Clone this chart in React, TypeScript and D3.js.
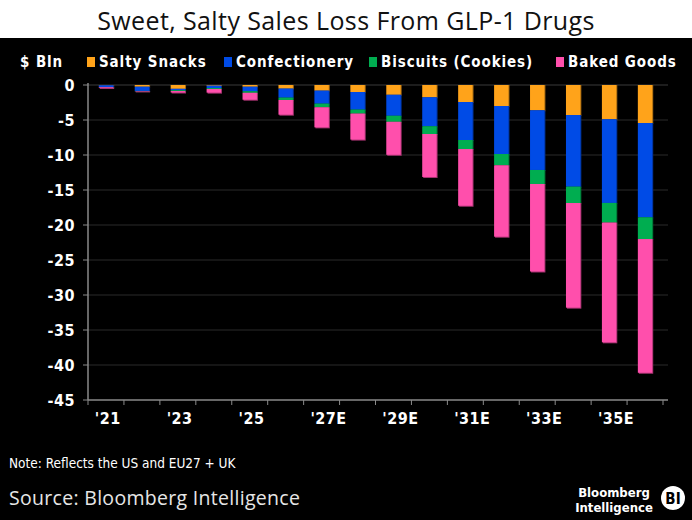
import { useRef, useEffect } from 'react';
import * as d3 from 'd3';

const W = 692;
const H = 520;

const years = ['2021', '2022', '2023', '2024', '2025', '2026', '2027', '2028', '2029', '2030', '2031', '2032', '2033', '2034', '2035', '2036'];
const tickLabels: Record<string, string> = {
  '2021': "'21",
  '2023': "'23",
  '2025': "'25",
  '2027': "'27E",
  '2029': "'29E",
  '2031': "'31E",
  '2033': "'33E",
  '2035': "'35E",
};

// losses in $ bln (plotted as negatives)
const saltySnacks = [0.05, 0.25, 0.55, 0.1, 0.25, 0.52, 0.81, 1.0, 1.4, 1.76, 2.43, 3.0, 3.62, 4.29, 4.9, 5.43];
const confectionery = [0.25, 0.6, 0.2, 0.33, 0.65, 1.29, 1.86, 2.52, 3.0, 4.14, 5.43, 6.86, 8.52, 10.24, 11.95, 13.48];
const biscuits = [0.03, 0.03, 0.12, 0.14, 0.22, 0.33, 0.52, 0.57, 0.86, 1.1, 1.29, 1.62, 2.0, 2.33, 2.81, 3.1];
const bakedGoods = [0.1, 0.03, 0.2, 0.52, 0.98, 2.1, 2.86, 3.71, 4.71, 6.14, 8.1, 10.19, 12.5, 14.95, 17.1, 19.1];

const seriesNames = ['Salty Snacks', 'Confectionery', 'Biscuits (Cookies)', 'Baked Goods'];
const seriesColors = ['#ffa31a', '#004be6', '#00ad50', '#ff4fac'];
const yTicks = [0, -5, -10, -15, -20, -25, -30, -35, -40, -45];

const FONT = '"DejaVu Sans Condensed", "DejaVu Sans", sans-serif';

export default function App() {
  const svgRef = useRef<SVGSVGElement>(null);

  useEffect(() => {
    document.body.style.margin = '0';
    const svg = d3.select(svgRef.current);
    svg.selectAll('*').remove();

    const left = 88;
    const right = 663;
    const top = 85;
    const bottom = 400;

    const x = d3.scaleBand<string>().domain(years).range([left, right]).paddingInner(0.6).paddingOuter(0.3);
    const y = d3.scaleLinear().domain([-45, 0]).range([bottom, top]);

    const table = years.map((yr, i) => ({
      year: yr,
      s0: -saltySnacks[i],
      s1: -confectionery[i],
      s2: -biscuits[i],
      s3: -bakedGoods[i],
    }));
    const keys = ['s0', 's1', 's2', 's3'];
    const stacked = d3.stack<any>().keys(keys).offset(d3.stackOffsetDiverging)(table);

    // background
    svg.append('rect').attr('width', W).attr('height', H).attr('fill', '#000');
    svg.append('rect').attr('width', W).attr('height', 38).attr('fill', '#fff');

    svg
      .append('text')
      .attr('x', W / 2)
      .attr('y', 30)
      .attr('text-anchor', 'middle')
      .attr('font-family', '"Open Sans", sans-serif')
      .attr('font-size', 25)
      .attr('letter-spacing', 0.4)
      .attr('fill', '#111')
      .text('Sweet, Salty Sales Loss From GLP-1 Drugs');

    // legend
    svg
      .append('text')
      .attr('x', 20)
      .attr('y', 67)
      .attr('font-family', FONT)
      .attr('font-weight', 700)
      .attr('font-size', 15)
      .attr('letter-spacing', 0.9)
      .attr('fill', '#fff')
      .text('$ Bln');
    const legendX = [87, 224, 369, 556];
    seriesNames.forEach((name, i) => {
      svg
        .append('rect')
        .attr('x', legendX[i])
        .attr('y', 57)
        .attr('width', 8)
        .attr('height', 10)
        .attr('fill', seriesColors[i]);
      svg
        .append('text')
        .attr('x', legendX[i] + 12)
        .attr('y', 67)
        .attr('font-family', FONT)
        .attr('font-weight', 700)
        .attr('font-size', 15)
        .attr('letter-spacing', 0.9)
        .attr('fill', '#fff')
        .text(name);
    });

    // gridlines
    yTicks.forEach((t) => {
      if (t === -45) return;
      svg
        .append('line')
        .attr('x1', left)
        .attr('x2', 668)
        .attr('y1', y(t))
        .attr('y2', y(t))
        .attr('stroke', t === 0 ? '#3a3a3a' : '#2b2b2b')
        .attr('stroke-width', 1);
    });

    // bars
    stacked.forEach((layer, si) => {
      const c = d3.color(seriesColors[si])!.darker(1.2).toString();
      layer.forEach((d) => {
        const yr = (d.data as any).year;
        const y0 = y(d[1]);
        const y1 = y(d[0]);
        svg
          .append('rect')
          .attr('x', x(yr)! + 1)
          .attr('y', y0)
          .attr('width', x.bandwidth())
          .attr('height', Math.max(0, y1 - y0) + 1)
          .attr('fill', c);
        svg
          .append('rect')
          .attr('x', x(yr)!)
          .attr('y', y0)
          .attr('width', x.bandwidth())
          .attr('height', Math.max(0, y1 - y0))
          .attr('fill', seriesColors[si]);
      });
    });

    // y axis
    svg
      .append('line')
      .attr('x1', left)
      .attr('x2', left)
      .attr('y1', top - 2)
      .attr('y2', bottom)
      .attr('stroke', '#8a8a8a')
      .attr('stroke-width', 1.5);
    yTicks.forEach((t) => {
      svg
        .append('line')
        .attr('x1', left - 5)
        .attr('x2', left)
        .attr('y1', y(t))
        .attr('y2', y(t))
        .attr('stroke', '#8a8a8a');
      svg
        .append('text')
        .attr('x', 75)
        .attr('y', y(t) + 6)
        .attr('text-anchor', 'end')
        .attr('font-family', FONT)
        .attr('font-weight', 700)
        .attr('font-size', 16)
        .attr('letter-spacing', 0.5)
        .attr('fill', '#fff')
        .text(String(t));
    });

    // x axis
    svg
      .append('line')
      .attr('x1', left)
      .attr('x2', 668)
      .attr('y1', bottom)
      .attr('y2', bottom)
      .attr('stroke', '#8a8a8a')
      .attr('stroke-width', 1.5);
    const step = x.step();
    d3.range(years.length + 1).forEach((k) => {
      svg
        .append('line')
        .attr('x1', left + k * step)
        .attr('x2', left + k * step)
        .attr('y1', bottom)
        .attr('y2', bottom + 5)
        .attr('stroke', '#8a8a8a');
    });
    years.forEach((yr) => {
      const lbl = tickLabels[yr];
      if (!lbl) return;
      svg
        .append('text')
        .attr('x', x(yr)! - 4)
        .attr('y', 424)
        .attr('font-family', FONT)
        .attr('font-weight', 700)
        .attr('font-size', 16)
        .attr('letter-spacing', 0.5)
        .attr('fill', '#fff')
        .text(lbl);
    });

    // footer
    svg
      .append('text')
      .attr('x', 9)
      .attr('y', 468)
      .attr('font-family', FONT)
      .attr('font-size', 13.5)
      .attr('fill', '#fff')
      .text('Note: Reflects the US and EU27 + UK');
    svg
      .append('text')
      .attr('x', 9)
      .attr('y', 505)
      .attr('font-family', '"Open Sans", sans-serif')
      .attr('font-size', 19.5)
      .attr('letter-spacing', 0.3)
      .attr('fill', '#e6e6e6')
      .text('Source: Bloomberg Intelligence');

    svg
      .append('text')
      .attr('x', 614)
      .attr('y', 497)
      .attr('text-anchor', 'middle')
      .attr('font-family', FONT)
      .attr('font-weight', 700)
      .attr('font-size', 13)
      .attr('fill', '#fff')
      .text('Bloomberg');
    svg
      .append('text')
      .attr('x', 614)
      .attr('y', 512)
      .attr('text-anchor', 'middle')
      .attr('font-family', FONT)
      .attr('font-weight', 700)
      .attr('font-size', 13)
      .attr('fill', '#fff')
      .text('Intelligence');
    svg.append('circle').attr('cx', 673).attr('cy', 498).attr('r', 12).attr('fill', '#fff');
    svg
      .append('text')
      .attr('x', 673)
      .attr('y', 504)
      .attr('text-anchor', 'middle')
      .attr('font-family', FONT)
      .attr('font-weight', 700)
      .attr('font-size', 15)
      .attr('fill', '#000')
      .text('BI');
  }, []);

  return <svg ref={svgRef} width={W} height={H} style={{ display: 'block' }} />;
}
